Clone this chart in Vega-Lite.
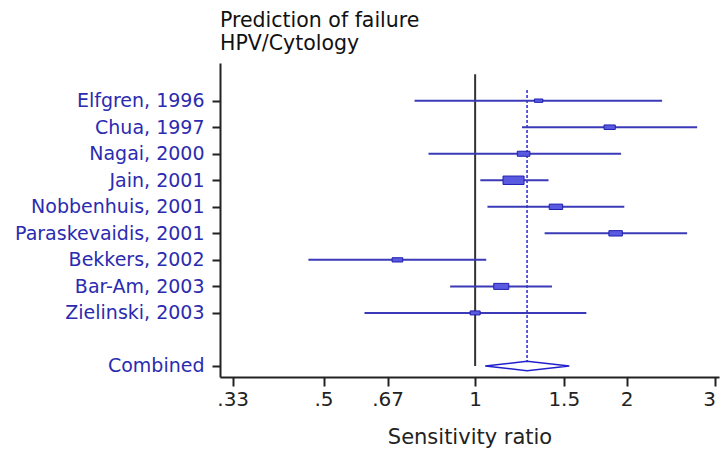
{
  "$schema": "https://vega.github.io/schema/vega-lite/v6.json",
  "width": 499,
  "height": 314,
  "autosize": {"type": "none"},
  "padding": {"left": 220, "top": 63, "right": 1, "bottom": 74},
  "background": "white",
  "config": {"view": {"stroke": null}, "font": "DejaVu Sans"},
  "title": {
    "text": ["Prediction of failure", "HPV/Cytology"],
    "anchor": "start",
    "frame": "group",
    "fontSize": 20.5,
    "fontWeight": "normal",
    "font": "DejaVu Sans",
    "color": "#111111",
    "lineHeight": 22.5,
    "offset": 9
  },
  "datasets": {
    "studies": [
      {"study": "Elfgren, 1996", "row": 0, "ratio": 1.337, "lower": 0.758, "upper": 2.351, "weight": 4.4},
      {"study": "Chua, 1997", "row": 1, "ratio": 1.85, "lower": 1.239, "upper": 2.76, "weight": 7.9},
      {"study": "Nagai, 2000", "row": 2, "ratio": 1.248, "lower": 0.808, "upper": 1.949, "weight": 9.9},
      {"study": "Jain, 2001", "row": 3, "ratio": 1.192, "lower": 1.024, "upper": 1.399, "weight": 27.7},
      {"study": "Nobbenhuis, 2001", "row": 4, "ratio": 1.447, "lower": 1.058, "upper": 1.978, "weight": 11.3},
      {"study": "Paraskevaidis, 2001", "row": 5, "ratio": 1.901, "lower": 1.374, "upper": 2.636, "weight": 11.3},
      {"study": "Bekkers, 2002", "row": 6, "ratio": 0.701, "lower": 0.4665, "upper": 1.052, "weight": 7.1},
      {"study": "Bar-Am, 2003", "row": 7, "ratio": 1.127, "lower": 0.892, "upper": 1.421, "weight": 14.2},
      {"study": "Zielinski, 2003", "row": 8, "ratio": 1.0, "lower": 0.603, "upper": 1.663, "weight": 6.3}
    ],
    "diamond": [
      {"k": 0, "ratio": 1.047, "row": 10},
      {"k": 1, "ratio": 1.268, "row": 9.82},
      {"k": 2, "ratio": 1.538, "row": 10},
      {"k": 3, "ratio": 1.268, "row": 10.18},
      {"k": 4, "ratio": 1.047, "row": 10}
    ],
    "nullLine": [{"ratio": 1, "row": -1, "rowEnd": 10}],
    "pooledLine": [{"ratio": 1.268, "row": -0.4, "rowEnd": 9.82}]
  },
  "encoding": {
    "x": {
      "field": "ratio",
      "type": "quantitative",
      "scale": {"type": "log", "domain": [0.3114, 3.05], "nice": false},
      "axis": {
        "values": [0.33, 0.5, 0.67, 1, 1.5, 2, 3],
        "labelExpr": "datum.value < 1 ? slice(toString(datum.value), 1) : toString(datum.value)",
        "title": "Sensitivity ratio",
        "titleFontSize": 21,
        "titleFontWeight": "normal",
        "titleColor": "#222222",
        "titlePadding": 17,
        "labelFontSize": 20,
        "labelColor": "#222222",
        "labelPadding": 3,
        "labelFlush": false,
        "labelOverlap": false,
        "labelBound": false,
        "labelAlign": {"condition": {"test": "datum.value === 3", "value": "right"}, "value": "center"},
        "tickSize": 9,
        "tickWidth": 2,
        "tickColor": "#222222",
        "domainWidth": 2,
        "domainColor": "#222222",
        "grid": false
      }
    },
    "y": {
      "field": "row",
      "type": "quantitative",
      "scale": {"domain": [-1.42, 10.415], "reverse": true, "nice": false, "zero": false},
      "axis": {
        "values": [0, 1, 2, 3, 4, 5, 6, 7, 8, 10],
        "labelExpr": "['Elfgren, 1996','Chua, 1997','Nagai, 2000','Jain, 2001','Nobbenhuis, 2001','Paraskevaidis, 2001','Bekkers, 2002','Bar-Am, 2003','Zielinski, 2003','','Combined'][datum.value]",
        "title": null,
        "labelFontSize": 19,
        "labelColor": "#2b2bb0",
        "labelPadding": 8,
        "labelLimit": 300,
        "labelOverlap": false,
        "labelFlush": false,
        "labelBound": false,
        "labelSeparation": 0,
        "tickSize": 8,
        "tickWidth": 2,
        "tickColor": "#222222",
        "domainWidth": 2,
        "domainColor": "#222222",
        "grid": false
      }
    }
  },
  "layer": [
    {
      "data": {"name": "nullLine"},
      "mark": {"type": "rule", "color": "#333333", "strokeWidth": 2},
      "encoding": {"y2": {"field": "rowEnd"}}
    },
    {
      "data": {"name": "pooledLine"},
      "mark": {"type": "rule", "color": "#2a2ad0", "strokeWidth": 1.5, "strokeDash": [3, 2]},
      "encoding": {"y2": {"field": "rowEnd"}}
    },
    {
      "data": {"name": "studies"},
      "mark": {"type": "rule", "color": "#3a3ab8", "strokeWidth": 2},
      "encoding": {
        "x": {"field": "lower", "type": "quantitative"},
        "x2": {"field": "upper"}
      }
    },
    {
      "data": {"name": "studies"},
      "mark": {
        "type": "point",
        "shape": "M-1,-0.4L1,-0.4L1,0.4L-1,0.4Z",
        "filled": true,
        "fill": "#5a5ae0",
        "stroke": "#2020b0",
        "strokeWidth": 1,
        "opacity": 1
      },
      "encoding": {
        "size": {"field": "weight", "type": "quantitative", "scale": {"domain": [0, 30], "range": [0, 480]}, "legend": null}
      }
    },
    {
      "data": {"name": "diamond"},
      "mark": {"type": "line", "color": "#2222cc", "strokeWidth": 1.5},
      "encoding": {
        "order": {"field": "k", "type": "quantitative"}
      }
    }
  ]
}
